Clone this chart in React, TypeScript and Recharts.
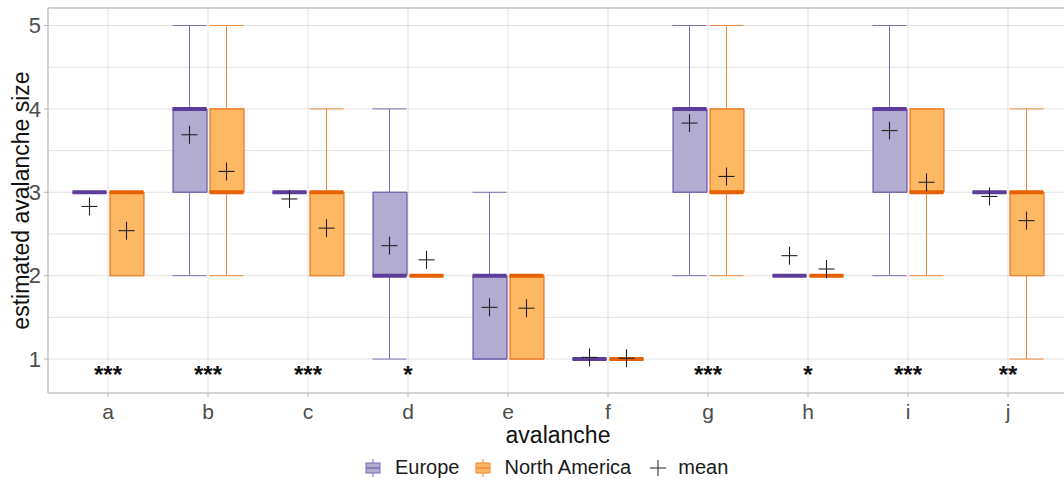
import React from 'react';
import {
  ComposedChart,
  Bar,
  Scatter,
  ErrorBar,
  XAxis,
  YAxis,
  CartesianGrid,
  ReferenceArea,
  Legend
} from 'recharts';

// avalanche categories
const categories = ['a', 'b', 'c', 'd', 'e', 'f', 'g', 'h', 'i', 'j'];

// Europe: whisker low, Q1, median, Q3, whisker high, mean
const euLow = [3, 2, 3, 1, 1, 1, 2, 2, 2, 3];
const euQ1 = [3, 3, 3, 2, 1, 1, 3, 2, 3, 3];
const euMed = [3, 4, 3, 2, 2, 1, 4, 2, 4, 3];
const euQ3 = [3, 4, 3, 3, 2, 1, 4, 2, 4, 3];
const euHigh = [3, 5, 3, 4, 3, 1, 5, 2, 5, 3];
const euMean = [2.83, 3.69, 2.92, 2.36, 1.62, 1.02, 3.83, 2.24, 3.74, 2.95];

// North America
const naLow = [2, 2, 2, 2, 1, 1, 2, 2, 2, 1];
const naQ1 = [2, 3, 2, 2, 1, 1, 3, 2, 3, 2];
const naMed = [3, 3, 3, 2, 2, 1, 3, 2, 3, 3];
const naQ3 = [3, 4, 3, 2, 2, 1, 4, 2, 4, 3];
const naHigh = [3, 5, 4, 2, 2, 1, 5, 2, 4, 4];
const naMean = [2.54, 3.25, 2.57, 2.19, 1.61, 1.01, 3.19, 2.08, 3.12, 2.66];

// significance labels
const signif = ['***', '***', '***', '*', '', '', '***', '*', '***', '**'];
const signifY = 0.8;

const yTicks = [1, 2, 3, 4, 5];
const yGridTicks = [1, 1.5, 2, 2.5, 3, 3.5, 4, 4.5, 5];
const yDomain = [0.593, 5.21];
const xDomain = [0.4, 10.6];

const FONT = '"Liberation Sans", Arial, sans-serif';
const EU_FILL = '#b2abd2';
const EU_DARK = '#5e3c99';
const EU_LINE = '#7d6db3';
const NA_FILL = '#fdb863';
const NA_DARK = '#e66101';
const NA_LINE = '#ee8a3a';
const DODGE = 0.185;

const rows = categories.map((cat, i) => ({
  cat,
  euBox: [euQ1[i], euQ3[i]],
  naBox: [naQ1[i], naQ3[i]]
}));

const groupPoints = (
  offset: number,
  low: number[],
  q1: number[],
  med: number[],
  q3: number[],
  high: number[],
  mean: number[]
) =>
  categories.map((_, i) => ({
    x: i + 1 + offset,
    low: low[i],
    q1: q1[i],
    med: med[i],
    q3: q3[i],
    high: high[i],
    mean: mean[i]
  }));

const euPoints = groupPoints(-DODGE, euLow, euQ1, euMed, euQ3, euHigh, euMean);
const naPoints = groupPoints(DODGE, naLow, naQ1, naMed, naQ3, naHigh, naMean);
const starPoints = categories.map((_, i) => ({ x: i + 1, y: signifY, label: signif[i] }));

const noShape = () => <g />;

const medianShape = (color: string) => (p: any) => (
  <line x1={p.cx - 17} x2={p.cx + 17} y1={p.cy} y2={p.cy} stroke={color} strokeWidth={4} />
);

const meanShape = (p: any) => (
  <g stroke="#222" strokeWidth={1.1}>
    <line x1={p.cx - 8} x2={p.cx + 8} y1={p.cy} y2={p.cy} />
    <line x1={p.cx} x2={p.cx} y1={p.cy - 9} y2={p.cy + 9} />
  </g>
);

const starShape = (p: any) => (
  <text
    x={p.cx}
    y={p.cy + 7}
    textAnchor="middle"
    fontFamily={FONT}
    fontSize={24}
    fontWeight="bold"
    fill="#111"
  >
    {p.payload.label}
  </text>
);

const BoxIcon = ({ fill, line }: { fill: string; line: string }) => (
  <svg width={16} height={18} style={{ marginRight: 14 }}>
    <line x1={8} x2={8} y1={0} y2={18} stroke={line} strokeWidth={1} />
    <rect x={1} y={4} width={14} height={10} fill={fill} stroke={line} strokeWidth={1} />
    <line x1={1} x2={15} y1={9} y2={9} stroke={line} strokeWidth={1.5} />
  </svg>
);

const LegendRow = () => (
  <div
    style={{
      height: 34,
      display: 'flex',
      alignItems: 'center',
      paddingLeft: 365,
      paddingTop: 3,
      boxSizing: 'border-box',
      fontFamily: FONT,
      fontSize: 20,
      color: '#1a1a1a'
    }}
  >
    <BoxIcon fill={EU_FILL} line={EU_LINE} />
    <span style={{ marginRight: 15 }}>Europe</span>
    <BoxIcon fill={NA_FILL} line={NA_LINE} />
    <span style={{ marginRight: 18 }}>North America</span>
    <svg width={18} height={18} style={{ marginRight: 11 }}>
      <g stroke="#333" strokeWidth={1.1}>
        <line x1={1} x2={17} y1={9} y2={9} />
        <line x1={9} x2={9} y1={1} y2={17} />
      </g>
    </svg>
    <span>mean</span>
  </div>
);

const App = () => {
  return (
    <div style={{ position: 'absolute', left: 0, top: 0, width: 1064, height: 483, overflow: 'hidden', background: '#fff' }}>
      <ComposedChart
        width={1080}
        height={483}
        data={rows}
        margin={{ top: 8, right: 12, bottom: 0, left: 0 }}
        barGap={3}
      >
        <CartesianGrid stroke="#e3e3e3" yAxisId="g" />
        <XAxis
          dataKey="cat"
          type="category"
          padding={{ left: 10, right: 10 }}
          height={56}
          axisLine={false}
          tickLine={{ stroke: '#b3b3b3' }}
          tickSize={4}
          tickMargin={7}
          tick={{ fontFamily: FONT, fontSize: 21, fill: '#4d4d4d' }}
          label={{
            value: 'avalanche',
            position: 'insideBottom',
            offset: 6,
            style: { fontFamily: FONT, fontSize: 23, fill: '#111' }
          }}
        />
        <XAxis xAxisId="n" dataKey="x" type="number" domain={xDomain} allowDataOverflow hide />
        <YAxis
          type="number"
          domain={yDomain}
          allowDataOverflow
          ticks={yTicks}
          width={48}
          axisLine={false}
          tickLine={{ stroke: '#b3b3b3' }}
          tickSize={4}
          tickMargin={3}
          tick={{ fontFamily: FONT, fontSize: 22, fill: '#4d4d4d' }}
          label={{
            value: 'estimated avalanche size',
            angle: -90,
            position: 'insideLeft',
            offset: 21,
            style: { textAnchor: 'middle', fontFamily: FONT, fontSize: 23, fill: '#111' }
          }}
        />
        <YAxis yAxisId="g" type="number" domain={yDomain} allowDataOverflow ticks={yGridTicks} hide />

        {/* whiskers */}
        <Scatter xAxisId="n" data={euPoints} dataKey="q1" shape={noShape} isAnimationActive={false}>
          <ErrorBar dataKey={(d: any) => [d.q1 - d.low, 0]} direction="y" width={17} stroke={EU_LINE} strokeWidth={1} />
        </Scatter>
        <Scatter xAxisId="n" data={euPoints} dataKey="q3" shape={noShape} isAnimationActive={false}>
          <ErrorBar dataKey={(d: any) => [0, d.high - d.q3]} direction="y" width={17} stroke={EU_LINE} strokeWidth={1} />
        </Scatter>
        <Scatter xAxisId="n" data={naPoints} dataKey="q1" shape={noShape} isAnimationActive={false}>
          <ErrorBar dataKey={(d: any) => [d.q1 - d.low, 0]} direction="y" width={17} stroke={NA_LINE} strokeWidth={1} />
        </Scatter>
        <Scatter xAxisId="n" data={naPoints} dataKey="q3" shape={noShape} isAnimationActive={false}>
          <ErrorBar dataKey={(d: any) => [0, d.high - d.q3]} direction="y" width={17} stroke={NA_LINE} strokeWidth={1} />
        </Scatter>

        {/* boxes */}
        <Bar dataKey="euBox" barSize={34} fill={EU_FILL} stroke={EU_DARK} strokeWidth={1} isAnimationActive={false} />
        <Bar dataKey="naBox" barSize={34} fill={NA_FILL} stroke={NA_DARK} strokeWidth={1} isAnimationActive={false} />

        {/* medians and means */}
        <Scatter xAxisId="n" data={euPoints} dataKey="med" shape={medianShape(EU_DARK)} isAnimationActive={false} />
        <Scatter xAxisId="n" data={naPoints} dataKey="med" shape={medianShape(NA_DARK)} isAnimationActive={false} />
        <Scatter xAxisId="n" data={euPoints} dataKey="mean" shape={meanShape} isAnimationActive={false} />
        <Scatter xAxisId="n" data={naPoints} dataKey="mean" shape={meanShape} isAnimationActive={false} />

        <Scatter xAxisId="n" data={starPoints} dataKey="y" shape={starShape} isAnimationActive={false} />

        <ReferenceArea
          xAxisId="n"
          x1={xDomain[0]}
          x2={xDomain[1]}
          y1={yDomain[0]}
          y2={yDomain[1]}
          fill="none"
          stroke="#b3b3b3"
          strokeWidth={1}
          ifOverflow="visible"
        />
        <Legend verticalAlign="bottom" height={34} content={() => <LegendRow />} />
      </ComposedChart>
    </div>
  );
};

export default App;
